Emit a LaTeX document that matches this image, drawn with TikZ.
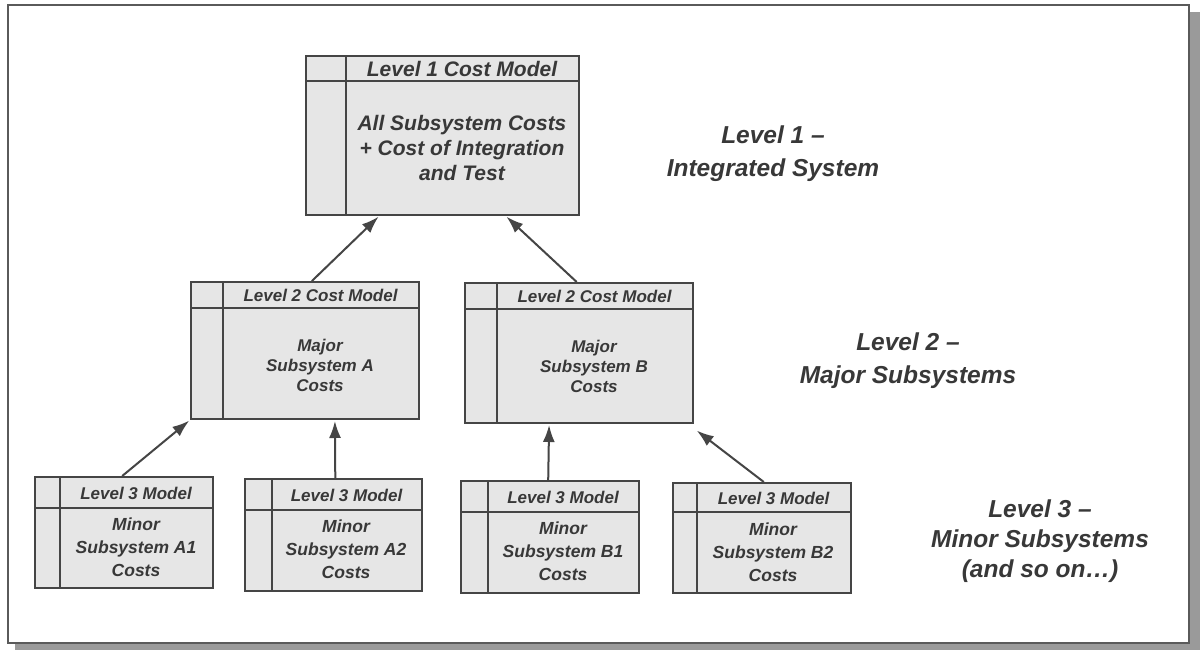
\documentclass[tikz,border=0pt]{standalone}
\usepackage{fontspec}
\setmainfont{Liberation Sans}
\usetikzlibrary{calc,arrows.meta}

\definecolor{inkgray}{HTML}{383838}
\definecolor{linegray}{HTML}{454545}
\definecolor{boxfill}{HTML}{E6E6E6}
\definecolor{shadowgray}{HTML}{9A9A9A}
\definecolor{framegray}{HTML}{5A5A5A}

\tikzset{
  boxframe/.style={draw=linegray, line width=2pt, fill=boxfill, rectangle, inner sep=0pt},
  boxline/.style={draw=linegray, line width=2pt},
  hdrtext/.style={text=inkgray, font=\bfseries\itshape, align=center, inner sep=0pt},
  bodytext/.style={text=inkgray, font=\bfseries\itshape, align=center, inner sep=0pt},
  leveltext/.style={text=inkgray, font=\fontsize{24.5}{33}\selectfont\bfseries\itshape, align=center, inner sep=0pt},
  arr/.style={draw=linegray, line width=2pt, -{Latex[length=17pt,width=12pt]}, shorten >=1pt},
}

% #1 name, #2 left, #3 top, #4 right, #5 bottom, #6 divider x, #7 header rule y,
% #8 font size, #9 header text; body text follows as a separate node
\newcommand{\modelbox}[9]{%
  \node[boxframe, anchor=north west, minimum width={#4-#2}, minimum height={#5-#3}] (#1) at (#2,#3) {};
  \draw[boxline] (#6,#3) -- (#6,#5);
  \draw[boxline] (#2,#7) -- (#4,#7);
  \node[hdrtext, font=\fontsize{#8}{#8}\selectfont\bfseries\itshape] (#1-h) at ({(#6+#4)/2},{(#3+#7)/2+1}) {#9};
}

\begin{document}
\begin{tikzpicture}[x=1pt,y=-1pt]
  \useasboundingbox (0,0) rectangle (1202,651);

  % page frame with drop shadow
  \fill[shadowgray] (15,12) rectangle (1200,650);
  \draw[framegray, line width=2pt, fill=white] (8,5) rectangle (1189,643);

  % level 1
  \modelbox{l1}{305}{55}{578}{214}{346}{81}{21}{Level 1 Cost Model}
  \node[bodytext, font=\fontsize{21}{25}\selectfont\bfseries\itshape] (l1-b) at (462,148)
    {All Subsystem Costs\\+ Cost of Integration\\and Test};

  % level 2
  \modelbox{l2a}{190}{281}{418}{418}{223}{308}{17}{Level 2 Cost Model}
  \node[bodytext, font=\fontsize{17}{20}\selectfont\bfseries\itshape] (l2a-b) at (320,365)
    {Major\\Subsystem A\\Costs};
  \modelbox{l2b}{464}{282}{692}{422}{497}{309}{17}{Level 2 Cost Model}
  \node[bodytext, font=\fontsize{17}{20}\selectfont\bfseries\itshape] (l2b-b) at (594,366)
    {Major\\Subsystem B\\Costs};

  % level 3
  \modelbox{l3a}{34}{476}{212}{587}{60}{508}{17}{Level 3 Model}
  \node[bodytext, font=\fontsize{17.5}{23}\selectfont\bfseries\itshape] (l3a-b) at (136,547)
    {Minor\\Subsystem A1\\Costs};
  \modelbox{l3b}{244}{478}{421}{590}{272}{510}{17}{Level 3 Model}
  \node[bodytext, font=\fontsize{17.5}{23}\selectfont\bfseries\itshape] (l3b-b) at (346,549)
    {Minor\\Subsystem A2\\Costs};
  \modelbox{l3c}{460}{480}{638}{592}{488}{512}{17}{Level 3 Model}
  \node[bodytext, font=\fontsize{17.5}{23}\selectfont\bfseries\itshape] (l3c-b) at (563,551)
    {Minor\\Subsystem B1\\Costs};
  \modelbox{l3d}{672}{482}{850}{592}{697}{512}{17}{Level 3 Model}
  \node[bodytext, font=\fontsize{17.5}{23}\selectfont\bfseries\itshape] (l3d-b) at (773,552)
    {Minor\\Subsystem B2\\Costs};

  % roll-up arrows
  \draw[arr] ($(l2a.north west)!0.53!(l2a.north east)$) -- ($(l1.south west)!0.27!(l1.south east)$);
  \draw[arr] ($(l2b.north west)!0.49!(l2b.north east)$) -- ($(l1.south west)!0.73!(l1.south east)$);
  \draw[arr] ($(l3a.north west)!0.49!(l3a.north east)$) -- (l2a.south west);
  \draw[arr] ($(l3b.north west)!0.51!(l3b.north east)$) -- ($(l2a.south west)!0.63!(l2a.south east)$);
  \draw[arr] ($(l3c.north west)!0.49!(l3c.north east)$) -- ($(l2b.south west)!0.37!(l2b.south east)$);
  \draw[arr] ($(l3d.north west)!0.51!(l3d.north east)$) -- ($(l2b.south east)+(2,6)$);

  % level captions
  \node[leveltext] (cap1) at (773,154) {Level 1 --\\Integrated System};
  \node[leveltext] (cap2) at (908,361) {Level 2 --\\Major Subsystems};
  \node[leveltext, font=\fontsize{24.5}{30}\selectfont\bfseries\itshape] (cap3) at (1040,541) {Level 3 --\\Minor Subsystems\\(and so on\dots)};
\end{tikzpicture}
\end{document}
